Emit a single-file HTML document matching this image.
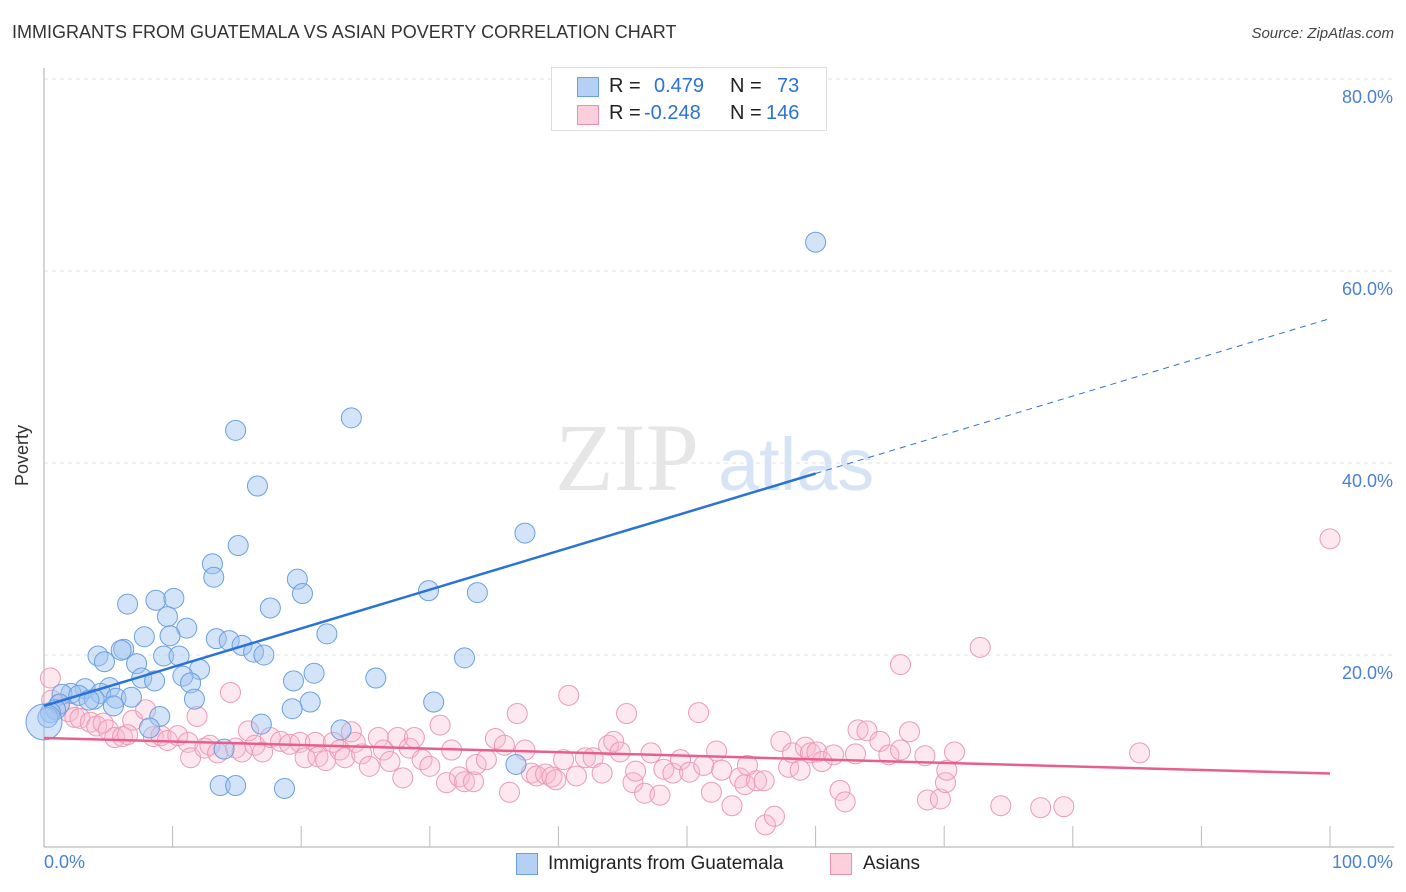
<!DOCTYPE html>
<html><head><meta charset="utf-8">
<style>
body{margin:0;background:#fff;font-family:"Liberation Sans",sans-serif;}
#wrap{position:relative;width:1406px;height:892px;overflow:hidden}
.t{position:absolute;white-space:nowrap}
</style></head>
<body>
<div id="wrap">
<div class="t" style="left:12px;top:22px;font-size:18px;color:#333;">IMMIGRANTS FROM GUATEMALA VS ASIAN POVERTY CORRELATION CHART</div>
<div class="t" style="right:12px;top:25px;font-size:15px;color:#444;font-style:italic;">Source: ZipAtlas.com</div>
<svg id="svg" width="1406" height="892" style="position:absolute;left:0;top:0"></svg>
</div>
<script>
const blueX=[60.0,23.9,14.9,16.6,37.4,15.1,13.1,13.2,19.7,29.9,33.7,20.1,6.5,8.7,10.1,17.6,9.6,11.1,22.0,7.8,9.8,13.4,14.4,6.2,15.4,6.0,4.2,9.3,10.5,16.3,17.1,32.7,4.7,7.2,12.1,21.0,7.6,8.6,10.8,25.8,19.4,11.4,5.1,3.2,2.1,1.4,2.7,4.4,3.9,5.6,6.8,11.7,30.3,20.7,3.5,1.2,5.4,19.3,0.9,9.0,0.5,0.3,16.9,8.2,23.1,14.0,36.7,13.7,14.9,18.7];
const blueY=[63.0,44.7,43.4,37.6,32.7,31.4,29.5,28.1,27.9,26.7,26.5,26.4,25.3,25.7,25.9,24.9,24.0,22.8,22.2,21.9,22.0,21.7,21.5,20.6,21.0,20.5,19.9,19.9,19.9,20.3,20.0,19.7,19.3,19.1,18.5,18.1,17.6,17.3,17.8,17.6,17.3,17.1,16.6,16.5,16.0,15.9,15.8,16.0,15.4,15.5,15.6,15.4,15.1,15.1,15.3,14.9,14.7,14.4,14.3,13.6,14.0,13.5,12.8,12.4,12.2,10.2,8.6,6.4,6.4,6.1];
const pinkX=[0.5,0.6,1.2,1.9,2.4,2.8,3.6,4.1,4.6,5.0,5.5,6.1,6.9,6.5,7.9,8.5,9.1,9.6,10.4,11.2,11.9,11.4,12.5,12.9,13.5,14.5,14.9,15.4,15.9,16.4,17.0,17.6,18.4,19.1,19.9,20.3,21.1,21.3,21.9,22.5,23.0,23.4,23.9,24.2,24.7,25.3,26.0,26.4,26.9,27.5,27.9,28.4,28.8,29.4,30.0,30.8,31.3,31.7,32.3,32.7,33.4,33.6,34.4,35.1,35.8,36.2,36.8,37.4,37.9,38.3,39.0,39.5,39.8,40.4,40.8,41.4,42.1,42.7,43.4,43.9,44.3,44.8,45.3,45.8,46.0,46.7,47.2,47.9,48.2,48.9,49.5,50.2,50.9,51.3,51.9,52.3,52.7,53.5,54.1,54.5,54.7,55.4,56.0,56.1,56.8,57.3,57.9,58.2,58.8,59.2,59.6,60.1,60.5,61.4,61.9,62.3,63.1,63.3,64.0,65.0,65.7,66.6,66.6,67.3,68.5,68.7,69.7,70.1,70.2,70.8,72.8,74.4,77.5,79.3,85.2,100];
const pinkY=[17.6,15.3,14.8,14.1,13.5,13.4,13.0,12.6,12.9,12.2,11.4,11.5,13.2,11.7,14.3,11.5,11.6,11.1,11.6,10.9,13.6,9.3,10.3,10.6,9.8,16.1,10.3,9.9,12.1,10.6,9.9,11.4,11.0,10.7,10.9,9.3,10.9,9.4,9.0,10.9,10.1,9.3,12.0,10.9,9.7,8.4,11.4,10.1,8.9,11.4,7.2,10.3,11.4,9.1,8.4,12.7,6.7,10.1,7.3,6.8,6.8,8.6,9.1,11.3,10.6,5.7,13.9,10.1,7.7,7.4,7.6,7.3,7.0,9.1,15.8,7.4,9.3,9.3,7.7,10.6,11.0,9.9,13.9,6.7,7.9,5.6,9.8,5.4,8.1,7.7,9.1,7.8,14.0,8.5,5.7,10.0,8.0,4.3,7.2,6.5,8.5,6.9,6.9,2.3,3.2,11.0,8.3,9.8,8.0,10.4,9.8,9.9,8.9,9.6,5.9,4.7,9.7,12.2,12.1,11.0,9.6,19.0,10.1,12.0,9.5,4.9,5.0,6.7,8.0,9.9,20.8,4.3,4.1,4.2,9.8,32.1];
const yTicks=[20,40,60,80];
const NS="http://www.w3.org/2000/svg";
const svg=document.getElementById('svg');
const sx=v=>44+v*12.86, sy=v=>847-v*9.6;
function mk(tag,attrs){const e=document.createElementNS(NS,tag);for(const k in attrs)e.setAttribute(k,attrs[k]);svg.appendChild(e);return e;}
yTicks.forEach(t=>{
 const g=mk('line',{x1:44,x2:1394,y1:sy(t),y2:sy(t),stroke:'#e2e2e2','stroke-dasharray':'4,4'});
 
 
 const tx=mk('text',{x:1393,y:sy(t)+24,'text-anchor':'end','font-size':18,fill:'#4a80d8','font-family':'Liberation Sans, sans-serif'});
 tx.textContent=t.toFixed(1)+'%';
 
 
});
const ya=mk('line',{x1:44,x2:44,y1:68,y2:847,stroke:'#aaa'});


const xa=mk('line',{x1:44,x2:1394,y1:847,y2:847,stroke:'#aaa'});


for(let i=1;i<=10;i++){const xx=44+i*128.6;const tk=mk('line',{x1:xx,x2:xx,y1:826,y2:847,stroke:'#bbb'});
 
 }
const wm=mk('text',{x:555,y:490,'font-size':96,fill:'#e6e6e6','font-family':'Liberation Serif, serif'});wm.textContent='ZIP';


const wm2=mk('text',{x:718,y:490,'font-size':74,fill:'#d6e4f5','font-family':'Liberation Sans, sans-serif'});wm2.textContent='atlas';


function pts(X,Y,fill,stroke,name){X.forEach((x,i)=>{const c=mk('circle',{cx:sx(x),cy:sy(Y[i]),r:10,fill:fill,stroke:stroke,'stroke-width':1});
 
 });}
pts(pinkX,pinkY,'rgba(248,185,205,0.32)','#eb9ab5','asians-point');
pts(blueX,blueY,'rgba(160,196,240,0.45)','#6a9fe0','guatemala-point');
const big=mk('circle',{cx:44,cy:722,r:18,fill:'rgba(160,196,240,0.45)',stroke:'#6a9fe0'});


function reg(X,Y){const n=X.length;let mx=0,my=0;X.forEach((x,i)=>{mx+=x;my+=Y[i]});mx/=n;my/=n;let a=0,b=0;X.forEach((x,i)=>{a+=(x-mx)*(Y[i]-my);b+=(x-mx)*(x-mx)});const s=a/b;return [my-s*mx,s];}
const [bi,bs]=reg(blueX,blueY), bmax=Math.max(...blueX);
const l1=mk('line',{x1:sx(0),y1:sy(bi),x2:sx(bmax),y2:sy(bi+bs*bmax),stroke:'#2a72d8','stroke-width':2.5});


const l2=mk('line',{x1:sx(bmax),y1:sy(bi+bs*bmax),x2:sx(100),y2:sy(bi+bs*100),stroke:'#2a72d8','stroke-width':1,'stroke-dasharray':'6,5'});


const [pi,ps]=reg(pinkX,pinkY);
const l3=mk('line',{x1:sx(0),y1:sy(pi),x2:sx(100),y2:sy(pi+ps*100),stroke:'#e8608a','stroke-width':2.5});


</script>
<div class="t" style="left:-8px;top:445px;font-size:18px;color:#333;transform:rotate(-90deg);">Poverty</div>
<div class="t" style="left:44px;top:852px;font-size:18px;color:#4a80d8;">0.0%</div>
<div class="t" style="right:13px;top:852px;font-size:18px;color:#4a80d8;">100.0%</div>
<div style="position:absolute;left:551px;top:67px;width:274px;height:62px;border:1px solid #ddd;background:#fff;font-size:20px;">
 <div style="position:absolute;left:25px;top:9px;width:20px;height:18px;background:#b5d0f5;border:1px solid #6a9fe0"></div>
 <div class="t" style="left:57px;top:7px;color:#222">R =</div>
 <div class="t" style="left:102px;top:7px;color:#2a72d8">0.479</div>
 <div class="t" style="left:178px;top:7px;color:#222">N =</div>
 <div class="t" style="left:225px;top:7px;color:#2a72d8">73</div>
 <div style="position:absolute;left:25px;top:37px;width:20px;height:18px;background:#fbd0dc;border:1px solid #e890ad"></div>
 <div class="t" style="left:57px;top:34px;color:#222">R =</div>
 <div class="t" style="left:92px;top:34px;color:#2a72d8">-0.248</div>
 <div class="t" style="left:178px;top:34px;color:#222">N =</div>
 <div class="t" style="left:214px;top:34px;color:#2a72d8">146</div>
</div>
<div style="position:absolute;left:516px;top:853px;font-size:19px;color:#222;">
 <div style="position:absolute;left:0;top:0;width:300px;">
  <div style="position:absolute;left:0;top:0;width:20px;height:20px;background:#b5d0f5;border:1px solid #6a9fe0"></div>
  <div class="t" style="left:32px;top:0">Immigrants from Guatemala</div></div>
 <div style="position:absolute;left:314px;top:0;width:120px;">
  <div style="position:absolute;left:0;top:0;width:20px;height:20px;background:#fbd0dc;border:1px solid #e890ad"></div>
  <div class="t" style="left:33px;top:0">Asians</div></div>
</div>
</body></html>
